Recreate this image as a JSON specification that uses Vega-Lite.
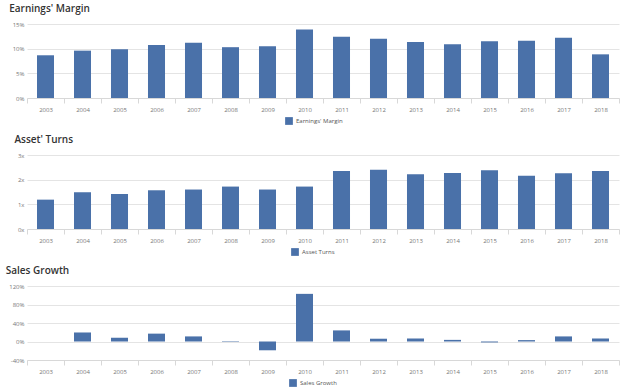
{
  "$schema": "https://vega.github.io/schema/vega-lite/v6.json",
  "background": "white",
  "padding": {"left": 5, "top": 4, "right": 8, "bottom": 0},
  "spacing": 10,
  "datasets": {
    "fin": [
      {"year": "2003", "margin": 8.66, "turns": 1.19, "growth": null},
      {"year": "2004", "margin": 9.6, "turns": 1.49, "growth": 19.5},
      {"year": "2005", "margin": 9.9, "turns": 1.42, "growth": 8},
      {"year": "2006", "margin": 10.75, "turns": 1.57, "growth": 17},
      {"year": "2007", "margin": 11.2, "turns": 1.6, "growth": 11},
      {"year": "2008", "margin": 10.3, "turns": 1.72, "growth": -1},
      {"year": "2009", "margin": 10.5, "turns": 1.6, "growth": -19},
      {"year": "2010", "margin": 13.9, "turns": 1.72, "growth": 103},
      {"year": "2011", "margin": 12.4, "turns": 2.35, "growth": 24},
      {"year": "2012", "margin": 12.0, "turns": 2.4, "growth": 6},
      {"year": "2013", "margin": 11.35, "turns": 2.22, "growth": 6.5},
      {"year": "2014", "margin": 10.9, "turns": 2.27, "growth": 3.5},
      {"year": "2015", "margin": 11.5, "turns": 2.38, "growth": -2},
      {"year": "2016", "margin": 11.6, "turns": 2.16, "growth": 3},
      {"year": "2017", "margin": 12.2, "turns": 2.26, "growth": 11},
      {"year": "2018", "margin": 8.85, "turns": 2.35, "growth": 6.5}
    ]
  },
  "resolve": {"scale": {"color": "independent"}, "legend": {"color": "independent"}},
  "vconcat": [
    {
      "title": {"text": "Earnings' Margin"},
      "width": 592,
      "height": 74,
      "data": {"name": "fin"},
      "transform": [{"calculate": "'Earnings\\' Margin'", "as": "series"}],
      "mark": {"type": "bar", "width": {"band": 0.46}},
      "encoding": {
        "x": {"field": "year", "type": "ordinal", "title": null},
        "y": {"field": "margin", "type": "quantitative", "title": null,
              "scale": {"domain": [0, 15]},
              "axis": {"values": [0, 5, 10, 15], "labelExpr": "datum.value + '%'"}},
        "color": {"field": "series", "type": "nominal", "scale": {"range": ["#4a71a9"]},
                  "legend": {"title": null, "orient": "none", "legendX": 258, "legendY": 93}}
      }
    },
    {
      "title": {"text": "Asset' Turns"},
      "width": 592,
      "height": 74,
      "data": {"name": "fin"},
      "transform": [{"calculate": "'Asset Turns'", "as": "series"}],
      "mark": {"type": "bar", "width": {"band": 0.46}},
      "encoding": {
        "x": {"field": "year", "type": "ordinal", "title": null},
        "y": {"field": "turns", "type": "quantitative", "title": null,
              "scale": {"domain": [0, 3]},
              "axis": {"values": [0, 1, 2, 3], "labelExpr": "datum.value + 'x'"}},
        "color": {"field": "series", "type": "nominal", "scale": {"range": ["#4a71a9"]},
                  "legend": {"title": null, "orient": "none", "legendX": 264, "legendY": 93}}
      }
    },
    {
      "title": {"text": "Sales Growth"},
      "width": 592,
      "height": 74,
      "data": {"name": "fin"},
      "transform": [{"calculate": "'Sales Growth'", "as": "series"}],
      "mark": {"type": "bar", "width": {"band": 0.46}},
      "encoding": {
        "x": {"field": "year", "type": "ordinal", "title": null,
              "scale": {"domain": ["2003","2004","2005","2006","2007","2008","2009","2010","2011","2012","2013","2014","2015","2016","2017","2018"]}},
        "y": {"field": "growth", "type": "quantitative", "title": null,
              "scale": {"domain": [-40, 120]},
              "axis": {"values": [-40, 0, 40, 80, 120], "labelExpr": "datum.value + '%'"}},
        "color": {"field": "series", "type": "nominal", "scale": {"range": ["#4a71a9"]},
                  "legend": {"title": null, "orient": "none", "legendX": 262, "legendY": 93}}
      }
    }
  ],
  "config": {
    "font": "Open Sans",
    "view": {"stroke": null},
    "title": {"anchor": "start", "frame": "bounds", "font": "Open Sans", "fontSize": 10, "fontWeight": 600, "color": "#333333", "offset": 7, "dx": -3},
    "axisX": {"labelAngle": 0, "labelFontSize": 6, "labelColor": "#777777", "domainColor": "#d8d8d8", "tickColor": "#d8d8d8", "tickBand": "extent", "tickSize": 5, "labelPadding": 3, "grid": false},
    "axisY": {"labelFontSize": 6, "labelColor": "#777777", "domain": false, "ticks": false, "gridColor": "#e4e4e4", "labelPadding": 3},
    "scale": {"bandPaddingInner": 0, "bandPaddingOuter": 0},
    "legend": {"labelFontSize": 6, "labelColor": "#555555", "symbolType": "square", "symbolSize": 60, "symbolStrokeWidth": 0, "labelOffset": 3}
  }
}
